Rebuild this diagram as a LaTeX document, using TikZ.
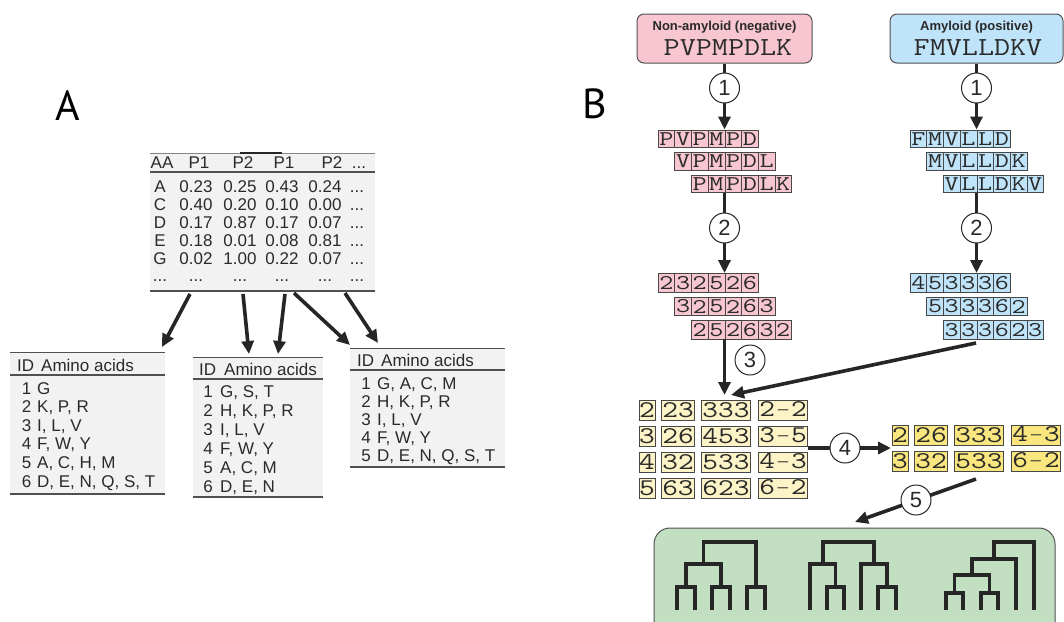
\documentclass[tikz,border=0pt]{standalone}
\usepackage{fontspec}
\setmainfont{Liberation Sans}
\newfontfamily\labfont{PT Sans}
\usepackage{graphicx}
\usetikzlibrary{arrows.meta}
\definecolor{tgray}{HTML}{F2F2F2}
\definecolor{rulec}{HTML}{505050}
\definecolor{ink}{HTML}{262626}
\definecolor{txt}{HTML}{2A2A2A}
\definecolor{pinkc}{HTML}{F7C6D1}
\definecolor{bluec}{HTML}{BFE3F8}
\definecolor{creamc}{HTML}{FCF3C6}
\definecolor{yelc}{HTML}{FAE67E}
\definecolor{greenc}{HTML}{C2DFC2}
\newcommand\wx[1]{\scalebox{1.3}[1]{#1}}
\newcommand\wy[1]{\scalebox{1.27}[1]{#1}}
\newcommand\mn{\makebox[12.6pt]{\scalebox{0.55}[1]{$-$}}}
\newcommand\tdots{...}
\begin{document}
\begin{tikzpicture}[x=1pt,y=-1pt,
  tt/.style={inner sep=0pt, anchor=base, text=txt, font=\fontsize{17}{17}\selectfont},
  ttw/.style={tt, anchor=base west},
  arr/.style={draw=ink, line width=3.6pt, -{Triangle[length=13pt,width=12pt]}},
  circ/.style={circle, draw=ink, line width=1pt, fill=white, minimum size=30pt, inner sep=0pt, text=txt, font=\fontsize{22}{22}\selectfont},
  pcell/.style={draw=ink!85, line width=0.6pt, fill=pinkc, minimum width=16.7pt, minimum height=17.5pt, inner sep=0pt, text=txt, font=\ttfamily\fontsize{21}{21}\selectfont},
  bcell/.style={pcell, fill=bluec},
  ybox/.style={draw=ink!85, line width=0.7pt, minimum height=20pt, inner sep=0pt, text=txt, font=\ttfamily\fontsize{24}{24}\selectfont},
  seqbox/.style={draw=ink!80, line width=1pt, rounded corners=7pt, minimum height=49pt},
  dend/.style={draw=ink, line width=3.5pt, line join=miter}
]
\useasboundingbox (0,0) rectangle (1064,621);
\clip (0,0) rectangle (1064,621);

% ---------------- Panel labels
\node[font=\labfont\fontsize{42}{42}\selectfont, inner sep=0pt] (labA) at (68,106) {A};
\node[font=\labfont\fontsize{42}{42}\selectfont, inner sep=0pt] (labB) at (595,104) {B};

% ---------------- Table A
\fill[tgray] (150,153) rectangle (375,291);
\draw[rulec!70, line width=0.8pt] (150,153) -- (375,153);
\draw[ink, line width=1.3pt] (240,153) -- (282,153);
\draw[rulec, line width=1.1pt] (150,172) -- (375,172);
\draw[rulec, line width=1.5pt] (150,291) -- (375,291);
\foreach \t/\x [count=\i] in {AA/162,P1/199,P2/243,P1/284,P2/332,\tdots/359}
  \node[tt] (ah\i) at (\x,168) {\t};
\foreach \l/\a/\b/\c/\d [count=\i] in {A/0.23/0.25/0.43/0.24,C/0.40/0.20/0.10/0.00,D/0.17/0.87/0.17/0.07,E/0.18/0.01/0.08/0.81,G/0.02/1.00/0.22/0.07}{
  \node[tt] (ar\i-0) at (160,{174+18*\i}) {\l};
  \node[tt] (ar\i-1) at (196,{174+18*\i}) {\a};
  \node[tt] (ar\i-2) at (240,{174+18*\i}) {\b};
  \node[tt] (ar\i-3) at (282,{174+18*\i}) {\c};
  \node[tt] (ar\i-4) at (325,{174+18*\i}) {\d};
  \node[tt] (ar\i-5) at (357,{174+18*\i}) {\tdots};
}
\foreach \x [count=\i] in {160,196,240,282,325,357}
  \node[tt] (ad\i) at (\x,281) {\tdots};

% ---------------- Small tables
% T1
\fill[tgray] (10,352) rectangle (165,494);
\draw[rulec, line width=1pt] (10,352) -- (165,352);
\draw[rulec, line width=1.1pt] (10,375) -- (165,375);
\draw[rulec, line width=1.5pt] (10,494) -- (165,494);
\node[ttw] (t1id) at (17,371) {ID};
\node[ttw] (t1aa) at (41,371) {Amino acids};
\foreach \s [count=\i] in {{G},{K, P, R},{I, L, V},{F, W, Y},{A, C, H, M},{D, E, N, Q, S, T}}{
  \node[tt] (t1n\i) at (26.5,{388+18.6*(\i-1)+6}) {\i};
  \node[ttw] (t1l\i) at (37,{388+18.6*(\i-1)+6}) {\s};
}
% T2
\fill[tgray] (193,357) rectangle (323,497);
\draw[rulec, line width=1pt] (193,357) -- (323,357);
\draw[rulec, line width=1.1pt] (193,379) -- (323,379);
\draw[rulec, line width=1.5pt] (193,497) -- (323,497);
\node[ttw] (t2id) at (199,375) {ID};
\node[ttw] (t2aa) at (224,375) {Amino acids};
\foreach \s [count=\i] in {{G, S, T},{H, K, P, R},{I, L, V},{F, W, Y},{A, C, M},{D, E, N}}{
  \node[tt] (t2n\i) at (208,{391+19*(\i-1)+6}) {\i};
  \node[ttw] (t2l\i) at (220,{391+19*(\i-1)+6}) {\s};
}
% T3
\fill[tgray] (350,348) rectangle (505,467);
\draw[rulec, line width=1pt] (350,348) -- (505,348);
\draw[rulec, line width=1.1pt] (350,370) -- (505,370);
\draw[rulec, line width=1.5pt] (350,467) -- (505,467);
\node[ttw] (t3id) at (357,366) {ID};
\node[ttw] (t3aa) at (381,366) {Amino acids};
\foreach \s [count=\i] in {{G, A, C, M},{H, K, P, R},{I, L, V},{F, W, Y},{D, E, N, Q, S, T}}{
  \node[tt] (t3n\i) at (366,{383+18.2*(\i-1)+6}) {\i};
  \node[ttw] (t3l\i) at (377,{383+18.2*(\i-1)+6}) {\s};
}
% arrows panel A
\coordinate (pA1) at (190,294);  \coordinate (qA1) at (162,347);
\coordinate (pA2) at (243,294);  \coordinate (qA2) at (249,354);
\coordinate (pA3) at (285,294);  \coordinate (qA3) at (278,354);
\coordinate (pA4) at (294,293);  \coordinate (qA4) at (350,345);
\coordinate (pA5) at (345,293);  \coordinate (qA5) at (378,343);
\foreach \k in {1,...,5} \draw[arr] (pA\k) -- (qA\k);

% ---------------- Panel B: sequences
\node[seqbox, fill=pinkc, minimum width=175pt] (neg) at (724.5,38.5) {};
\node[font=\bfseries\fontsize{13}{13}\selectfont, text=txt, inner sep=0pt] (negt) at (724.5,27.5) {Non-amyloid (negative)};
\node[font=\ttfamily\fontsize{26}{26}\selectfont, text=txt, inner sep=0pt] (negs) at (728,48) {\scalebox{1.2}[1]{PVPMPDLK}};
\node[seqbox, fill=bluec, minimum width=173pt] (pos) at (976.5,38.5) {};
\node[font=\bfseries\fontsize{13}{13}\selectfont, text=txt, inner sep=0pt] (post) at (976.5,27.5) {Amyloid (positive)};
\node[font=\ttfamily\fontsize{26}{26}\selectfont, text=txt, inner sep=0pt] (poss) at (978,48) {\scalebox{1.2}[1]{FMVLLDKV}};

% fragments (letters)
\foreach \r/\seq in {1/{P,V,P,M,P,D},2/{V,P,M,P,D,L},3/{P,M,P,D,L,K}}
  \foreach \ch [count=\i from 0] in \seq
    \node[pcell] (pl\r-\i) at ({658+16.7*(\r-1)+8.35+16.7*\i},{139+22.5*(\r-1)}) {\wx{\ch}};
\foreach \r/\seq in {1/{F,M,V,L,L,D},2/{M,V,L,L,D,K},3/{V,L,L,D,K,V}}
  \foreach \ch [count=\i from 0] in \seq
    \node[bcell] (bl\r-\i) at ({910+16.7*(\r-1)+8.35+16.7*\i},{139+22.5*(\r-1)}) {\wx{\ch}};
% fragments (numbers)
\foreach \r/\seq in {1/{2,3,2,5,2,6},2/{3,2,5,2,6,3},3/{2,5,2,6,3,2}}
  \foreach \ch [count=\i from 0] in \seq
    \node[pcell, minimum height=18.5pt] (pn\r-\i) at ({658+16.7*(\r-1)+8.35+16.7*\i},{283+23.5*(\r-1)}) {\wx{\ch}};
\foreach \r/\seq in {1/{4,5,3,3,3,6},2/{5,3,3,3,6,2},3/{3,3,3,6,2,3}}
  \foreach \ch [count=\i from 0] in \seq
    \node[bcell, minimum height=18.5pt] (bn\r-\i) at ({910+16.7*(\r-1)+8.35+16.7*\i},{283+23.5*(\r-1)}) {\wx{\ch}};

% step arrows 1 and 2
\coordinate (e1L) at (724.5,129.5);
\coordinate (e1R) at (976.5,129.5);
\draw[arr] (neg.south) -- (e1L);
\draw[arr] (pos.south) -- (e1R);
\node[circ] (c1L) at (724.5,88) {1};
\node[circ] (c1R) at (976.5,88) {1};
\coordinate (s2L) at (724.5,193);
\coordinate (s2R) at (976.5,193);
\coordinate (e2L) at (724.5,273);
\coordinate (e2R) at (976.5,273);
\draw[arr] (s2L) -- (e2L);
\draw[arr] (s2R) -- (e2R);
\node[circ] (c2L) at (724.5,228) {2};
\node[circ] (c2R) at (976.5,228) {2};

% step 3
\coordinate (s3L) at (724.5,339);
\coordinate (e3L) at (724.5,395);
\coordinate (s3R) at (976,343);
\coordinate (e3R) at (731,395);
\draw[arr] (s3L) -- (e3L);
\draw[arr] (s3R) -- (e3R);
\node[circ] (c3) at (750,360) {3};

% yellow tables
\foreach \a/\b/\c/\d [count=\r] in {2/23/333/2\mn2,3/26/453/3\mn5,4/32/533/4\mn3,5/63/623/6\mn2}{
  \node[ybox, fill=creamc, minimum width=16pt] (ly\r-0) at (647,{410+26*(\r-1)}) {\wy{\a}};
  \node[ybox, fill=creamc, minimum width=33pt] (ly\r-1) at (678,{410+26*(\r-1)}) {\wy{\b}};
  \node[ybox, fill=creamc, minimum width=49pt] (ly\r-2) at (726,{410+26*(\r-1)}) {\wy{\c}};
  \node[ybox, fill=creamc, minimum width=49pt] (ly\r-3) at (783,{410+26*(\r-1)}) {\wy{\d}};
}
\foreach \a/\b/\c/\d [count=\r] in {2/26/333/4\mn3,3/32/533/6\mn2}{
  \node[ybox, fill=yelc, minimum width=16pt] (ry\r-0) at (900,{435+26.5*(\r-1)}) {\wy{\a}};
  \node[ybox, fill=yelc, minimum width=33pt] (ry\r-1) at (931,{435+26.5*(\r-1)}) {\wy{\b}};
  \node[ybox, fill=yelc, minimum width=49pt] (ry\r-2) at (979,{435+26.5*(\r-1)}) {\wy{\c}};
  \node[ybox, fill=yelc, minimum width=49pt] (ry\r-3) at (1036,{435+26.5*(\r-1)}) {\wy{\d}};
}
% step 4
\coordinate (s4) at (808,448);
\coordinate (e4) at (891,448);
\draw[arr] (s4) -- (e4);
\node[circ] (c4) at (845,448) {4};

% step 5
\coordinate (s5) at (976,479);
\coordinate (e5) at (855,522);
\draw[arr] (s5) -- (e5);
\node[circ] (c5) at (916,500) {5};

% green box with dendrograms
\node[draw=ink!80, line width=1pt, fill=greenc, rounded corners=16pt, minimum width=401pt, minimum height=112pt, inner sep=0pt] (gbox) at (854.5,584) {};
% dendrogram 1
\draw[dend] (677,610) -- (677,587) -- (695,587) -- (695,610);
\draw[dend] (712,610) -- (712,587) -- (730,587) -- (730,610);
\draw[dend] (747,610) -- (747,587) -- (765,587) -- (765,610);
\draw[dend] (686,587) -- (686,564) -- (721,564) -- (721,587);
\draw[dend] (703.5,564) -- (703.5,542) -- (756,542) -- (756,587);
% dendrogram 2
\draw[dend] (827,610) -- (827,587) -- (844,587) -- (844,610);
\draw[dend] (878,610) -- (878,587) -- (896,587) -- (896,610);
\draw[dend] (810,610) -- (810,564) -- (835.5,564) -- (835.5,587);
\draw[dend] (861,610) -- (861,564) -- (887,564) -- (887,587);
\draw[dend] (822.75,564) -- (822.75,542) -- (874,542) -- (874,564);
% dendrogram 3
\draw[dend] (946,610) -- (946,593) -- (963,593) -- (963,610);
\draw[dend] (981,610) -- (981,593) -- (998,593) -- (998,610);
\draw[dend] (954.5,593) -- (954.5,575) -- (989.5,575) -- (989.5,593);
\draw[dend] (972,575) -- (972,559) -- (1016,559) -- (1016,610);
\draw[dend] (994,559) -- (994,542) -- (1034,542) -- (1034,610);
\end{tikzpicture}
\end{document}
